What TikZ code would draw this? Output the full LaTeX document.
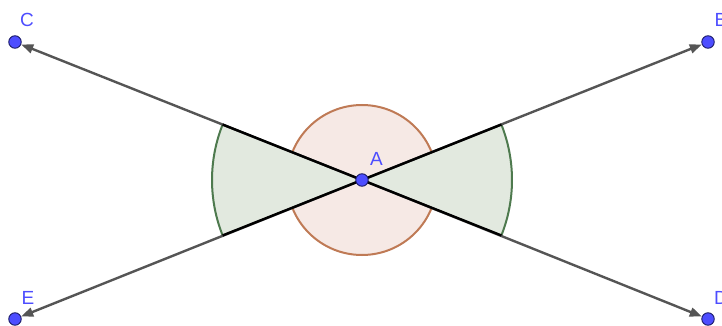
\documentclass[tikz,border=0pt]{standalone}
\usepackage{fontspec}
\setmainfont{Liberation Sans}
\usetikzlibrary{arrows.meta}
\definecolor{ptblue}{HTML}{4D4DFF}
\definecolor{ptedge}{HTML}{1A1A66}
\definecolor{vecgray}{HTML}{555555}
\definecolor{sectfill}{HTML}{E2E9DF}
\definecolor{sectarc}{HTML}{4E7A4E}
\definecolor{circfill}{HTML}{F6E9E5}
\definecolor{circline}{HTML}{BF7A55}
\tikzset{
  pt/.style={circle, fill=ptblue, draw=ptedge, line width=0.9pt, minimum size=12.5pt, inner sep=0pt},
  lbl/.style={text=ptblue, font=\fontsize{19}{19}\selectfont, inner sep=0pt},
  vec/.style={draw=vecgray, line width=2.4pt, -{Triangle[length=12pt,width=9pt]}},
  sect/.style={fill=sectfill},
  sectarcline/.style={draw=sectarc, line width=2pt},
  sectedge/.style={draw=black, line width=2.4pt},
  circ/.style={fill=circfill, draw=circline, line width=2pt}
}
\begin{document}
\begin{tikzpicture}[x=1pt,y=-1pt]
\useasboundingbox (0,0) rectangle (722,326);
\coordinate (A0) at (362,180);
% circle
\draw[circ] (A0) circle (75);
% sectors
\fill[sect] (A0) -- ++(-158.3:150) arc[start angle=-158.3, end angle=-201.7, radius=150] -- cycle;
\fill[sect] (A0) -- ++(-21.7:150) arc[start angle=-21.7, end angle=21.7, radius=150] -- cycle;
\draw[sectarcline] (A0) ++(-158.3:150) arc[start angle=-158.3, end angle=-201.7, radius=150];
\draw[sectarcline] (A0) ++(-21.7:150) arc[start angle=-21.7, end angle=21.7, radius=150];
% points
\node[pt] (C) at (15,42) {};
\node[pt] (B) at (708,42) {};
\node[pt] (E) at (15,319) {};
\node[pt] (D) at (708,319) {};
% vectors
\draw[vec] (A0) -- (C);
\draw[vec] (A0) -- (B);
\draw[vec] (A0) -- (E);
\draw[vec] (A0) -- (D);
% sector edges
\draw[sectedge] (A0) -- ++(-158.3:150);
\draw[sectedge] (A0) -- ++(158.3:150);
\draw[sectedge] (A0) -- ++(-21.7:150);
\draw[sectedge] (A0) -- ++(21.7:150);
\node[pt] (A) at (A0) {};
% labels
\node[lbl] (lC) at (27,20) {C};
\node[lbl] (lB) at (721,20) {B};
\node[lbl] (lE) at (28,298) {E};
\node[lbl] (lD) at (721,298) {D};
\node[lbl] (lA) at (376.5,158.5) {A};
\end{tikzpicture}
\end{document}
